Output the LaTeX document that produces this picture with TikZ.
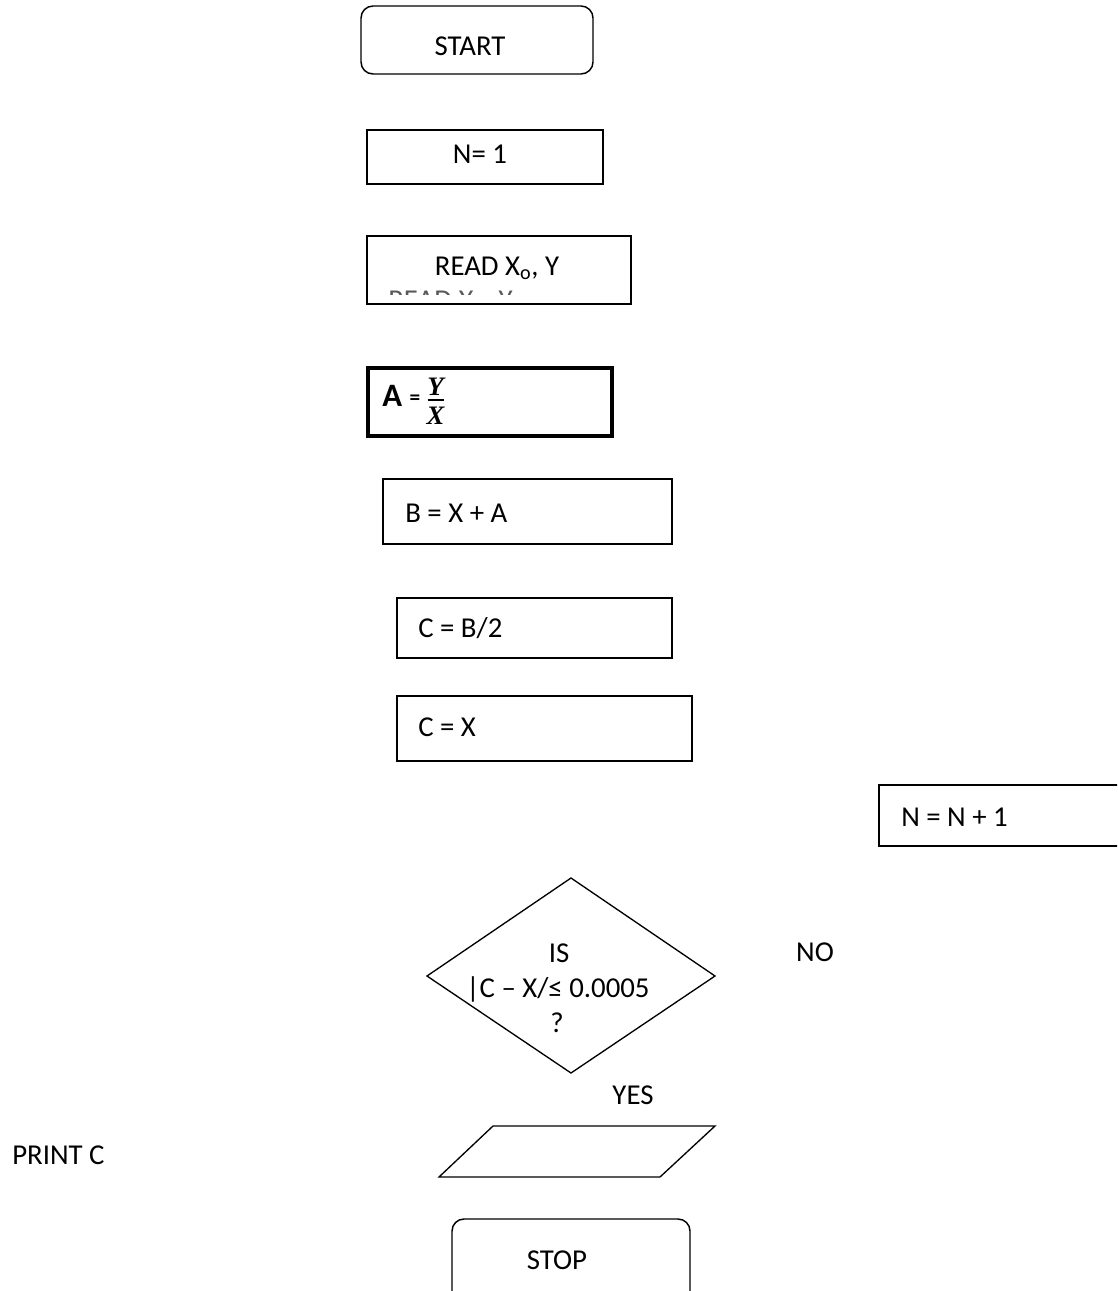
\documentclass[tikz,border=0pt]{standalone}
\usepackage{fontspec}
\setmainfont{Carlito}
\newfontfamily\fracfont{Liberation Serif}
\usetikzlibrary{fit}
\tikzset{
  px/.style={x=0.75pt,y=-0.75pt},
  txt/.style={inner sep=0pt, font=\fontsize{21.6}{25}\selectfont},
  fractxt/.style={inner sep=0pt, anchor=base, font=\fracfont\bfseries\itshape\fontsize{20}{21}\selectfont},
  procbox/.style={draw, line width=1.1pt, inner sep=0pt},
  thickbox/.style={draw, line width=2.7pt, inner sep=0pt},
  termbox/.style={draw, line width=1.1pt, inner sep=0pt, rounded corners=9pt},
  outline/.style={line width=1pt, line join=miter}
}
\begin{document}
\begin{tikzpicture}[px]
\useasboundingbox (0,0) rectangle (1117,1291);
\clip (0,0) rectangle (1117,1291);
\fill[white] (0,0) rectangle (1117,1291);

% START
\node[termbox, fit={(361,6) (593,74)}] (start) {};
\node[txt, anchor=base] (tstart) at (470,56) {START};

% N = 1
\node[procbox, fit={(367,130) (603,184)}] (n1) {};
\node[txt, anchor=base] (tn1) at (480,164) {N= 1};

% READ
\node[procbox, fit={(367,236) (631,304)}] (read) {};
\node[txt, anchor=base] (tread) at (497,275) {READ X\textsubscript{o}, Y};
\begin{scope}
  \clip (380,290) rectangle (530,294.5);
  \node[txt, anchor=base west, text=black!65] (ghost) at (388,309) {READ X\textsubscript{o}, Y};
\end{scope}

% A = Y/X
\node[thickbox, fit={(368,368) (612,436)}] (abox) {};
\node[inner sep=0pt, anchor=base west, font=\bfseries\fontsize{24.5}{26}\selectfont] (ta) at (382,406) {A};
\node[inner sep=0pt, font=\bfseries\fontsize{16}{16}\selectfont] (teq) at (415,400) {=};
\node[fractxt] (fy) at (435.5,395.5) {Y};
\node[fractxt] (fx) at (435.5,424.5) {X};
\draw[line width=1.2pt] (427.5,400) -- (443.5,400);

% B = X + A
\node[procbox, fit={(383,479) (672,544)}] (bbox) {};
\node[txt, anchor=base west] (tb) at (405,522) {B = X + A};

% C = B/2
\node[procbox, fit={(397,598) (672,658)}] (cbox) {};
\node[txt, anchor=base west] (tc) at (418,637) {C = B/2};

% C = X
\node[procbox, fit={(397,696) (692,761)}] (cxbox) {};
\node[txt, anchor=base west] (tcx) at (418,736) {C = X};

% N = N + 1
\node[procbox, fit={(879,785) (1140,846)}] (incbox) {};
\node[txt, anchor=base west] (tinc) at (901,826) {N = N + 1};

% decision
\draw[outline] (571,878) -- (715,976) -- (571,1073) -- (427,976) -- cycle;
\node[txt, anchor=base] (tis) at (559,962) {IS};
\node[txt, anchor=base] (tcond) at (558,997) {|C – X/≤ 0.0005};
\node[txt, anchor=base] (tq) at (557,1032) {?};
\node[txt, anchor=base] (tno) at (815,961) {NO};
\node[txt, anchor=base] (tyes) at (633,1104) {YES};

% output parallelogram
\draw[outline] (493,1126) -- (715,1126) -- (660,1177) -- (439,1177) -- cycle;
\node[txt, anchor=base west] (tprint) at (12,1164) {PRINT C};

% STOP
\node[termbox, fit={(452,1219) (690,1320)}] (stop) {};
\node[txt, anchor=base] (tstop) at (557,1269) {STOP};
\end{tikzpicture}
\end{document}
